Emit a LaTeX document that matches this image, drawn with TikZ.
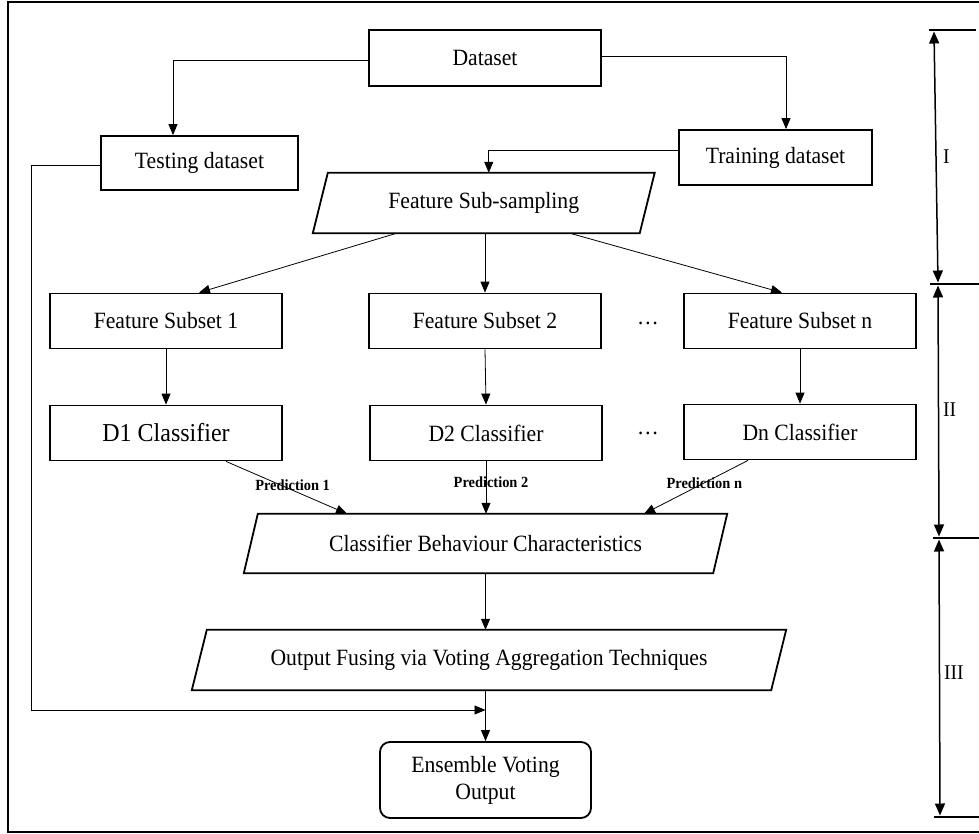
\documentclass[tikz,border=0pt]{standalone}
\usepackage{fontspec}
\setmainfont[FakeStretch=0.93]{Liberation Serif}
\usetikzlibrary{arrows.meta,calc}
\newcommand{\drawslant}[2]{\draw[line width=1.8pt, line join=miter] ([xshift=#2]#1.north west) -- ([xshift=#2]#1.north east) -- ([xshift=-#2]#1.south east) -- ([xshift=-#2]#1.south west) -- cycle;}
\begin{document}
\begin{tikzpicture}[x=1pt,y=-1pt,
  txt/.style={font=\fontsize{23.3}{27}\selectfont},
  box/.style={txt, draw, line width=1.8pt, rectangle, inner sep=0pt, minimum width=232pt, minimum height=55pt},
  slantbox/.style={txt, rectangle, inner sep=0pt},
  arr/.style={line width=0.8pt, -{Triangle[length=11pt,width=9pt]}},
  dbl/.style={line width=1.5pt, {Triangle[length=12pt,width=10pt]}-{Triangle[length=12pt,width=10pt]}},
  bar/.style={line width=2.5pt},
  pred/.style={font=\fontsize{15.5}{17}\bfseries\selectfont, inner sep=0pt},
  roman/.style={font=\fontsize{21}{24}\selectfont, anchor=west, inner sep=0pt}]
\useasboundingbox (0,0) rectangle (979,834);
\clip (0,0) rectangle (979,834);
\fill[white] (0,0) rectangle (979,834);
% frame
\draw[line width=2.2pt] (8,2) rectangle (995,832);

% nodes
\node[box, minimum width=232pt, minimum height=56pt] (dataset) at (485,58) {Dataset};
\node[box, minimum width=197pt, minimum height=54pt] (testing) at (199.5,163) {Testing dataset};
\node[box, minimum width=193pt, minimum height=55pt] (training) at (775.5,157.5) {Training dataset};
\node[slantbox, minimum width=326.5pt, minimum height=60pt] (featsub) at (483.75,203) {Feature Sub-sampling};
\drawslant{featsub}{7.5pt}

\node[box] (fs1) at (166,321) {Feature Subset 1};
\node[box] (fs2) at (485,321) {Feature Subset 2};
\node[box] (fsn) at (800,321) {Feature Subset n};
\node[txt, anchor=base] (dots1) at (648,324) {\ldots};

\node[box, font=\fontsize{25.8}{28}\selectfont] (d1) at (166,433) {D1 Classifier};
\node[box] (d2) at (486,433) {D2 Classifier};
\node[box] (dn) at (800,432) {Dn Classifier};
\node[txt, anchor=base] (dots2) at (648,434) {\ldots};

\node[slantbox, minimum width=469pt, minimum height=59pt] (cbc) at (485.5,543.5) {Classifier Behaviour Characteristics};
\drawslant{cbc}{7pt}
\node[slantbox, minimum width=579pt, minimum height=60pt] (of) at (489,660) {Output Fusing via Voting Aggregation Techniques};
\drawslant{of}{7.5pt}
\node[box, rounded corners=10pt, minimum width=211pt, minimum height=76pt, align=center] (ens) at (485.5,780) {Ensemble Voting\\Output};

% connectors
\draw[arr] ([yshift=-2pt]dataset.west) -| ([xshift=-26.5pt]testing.north);
\draw[arr] ([yshift=2pt]dataset.east) -| ([xshift=10.5pt]training.north);
\draw[arr] ([yshift=7.5pt]training.west) -| ([xshift=5pt]featsub.north);
\coordinate (tcorner) at (31,710);
\coordinate (join) at (485.5,710);
\draw[arr] ([yshift=-2pt]testing.west) -| (tcorner) -- (join);

\draw[arr] ([xshift=-87pt]featsub.south) -- ([xshift=33pt]fs1.north);
\draw[arr] (fs2.north |- featsub.south) -- (fs2.north);
\draw[arr] ([xshift=86pt]featsub.south) -- ([xshift=-18pt]fsn.north);

\draw[arr] (fs1.south) -- (d1.north);
\draw[arr] (fs2.south) -- (d2.north);
\draw[arr] (fsn.south) -- (dn.north);

\draw[arr] ([xshift=60pt]d1.south) -- ([xshift=-138.5pt]cbc.north) node[pred, pos=0.55, yshift=5pt] (p1) {Prediction 1};
\draw[arr] (d2.south) -- (d2.south |- cbc.north) node[pred, pos=0.39, xshift=5pt] (p2) {Prediction 2};
\draw[arr] ([xshift=-52pt]dn.south) -- ([xshift=158.5pt]cbc.north) node[pred, pos=0.42] (pn) {Prediction n};

\draw[arr] (cbc.south) -- (cbc.south |- of.north);
\draw[arr] (of.south -| ens.north) -- (ens.north);

% stage markers
\coordinate (b1) at (934,30);
\coordinate (b2) at (938,284);
\coordinate (b3) at (939,538);
\coordinate (b4) at (940,817);
\draw[bar] (929,30) -- (976,30);
\draw[bar] (930,284) -- (979,284);
\draw[bar] (933,538) -- (979,538);
\draw[bar] (934,817) -- (979,817);
\draw[dbl] ([yshift=-1.5pt]b1) -- ([yshift=1.5pt]b2);
\draw[dbl] ([yshift=-1.5pt]b2) -- ([yshift=1.5pt]b3);
\draw[dbl] ([yshift=-1.5pt]b3) -- ([yshift=1.5pt]b4);
\node[roman] (r1) at (943,157) {I};
\node[roman] (r2) at (943,410) {II};
\node[roman] (r3) at (944,673) {III};
\end{tikzpicture}
\end{document}
